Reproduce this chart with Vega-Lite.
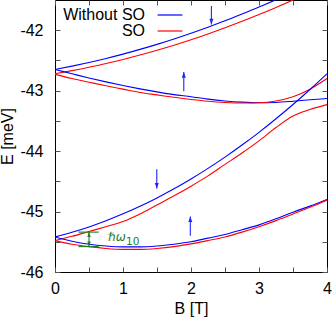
{
  "$schema": "https://vega.github.io/schema/vega-lite/v6.json",
  "width": 272,
  "height": 272,
  "autosize": {"type": "none"},
  "padding": {"left": 55, "top": 0, "right": 5, "bottom": 46},
  "config": {
    "font": "Liberation Sans",
    "view": {"stroke": "#000000", "strokeWidth": 1},
    "axis": {
      "grid": false,
      "domain": false,
      "tickSize": -5,
      "tickColor": "#555555",
      "labelFont": "Liberation Sans",
      "labelFontSize": 16,
      "labelColor": "#000000",
      "titleFont": "Liberation Sans",
      "titleFontSize": 16,
      "titleFontWeight": "normal",
      "titleColor": "#000000",
      "labelFlush": false,
      "labelBound": false,
      "labelOverlap": false
    },
    "legend": {
      "orient": "top-left",
      "offset": 7,
      "padding": 0,
      "symbolType": "M-3.1,0L3.1,0",
      "symbolSize": 64,
      "symbolStrokeWidth": 1.2,
      "labelFont": "Liberation Sans",
      "labelFontSize": 16,
      "labelColor": "#000000",
      "labelAlign": "right",
      "labelOffset": -33,
      "symbolOffset": 100,
      "rowPadding": 0
    }
  },
  "datasets": {
    "curves": [
      {"B": 0, "E": -42.65, "curve": "c1", "set": "Without SO"},
      {"B": 0.25, "E": -42.594, "curve": "c1", "set": "Without SO"},
      {"B": 0.5, "E": -42.533, "curve": "c1", "set": "Without SO"},
      {"B": 0.75, "E": -42.467, "curve": "c1", "set": "Without SO"},
      {"B": 1.0, "E": -42.395, "curve": "c1", "set": "Without SO"},
      {"B": 1.25, "E": -42.317, "curve": "c1", "set": "Without SO"},
      {"B": 1.5, "E": -42.234, "curve": "c1", "set": "Without SO"},
      {"B": 1.75, "E": -42.145, "curve": "c1", "set": "Without SO"},
      {"B": 2.0, "E": -42.05, "curve": "c1", "set": "Without SO"},
      {"B": 2.25, "E": -41.95, "curve": "c1", "set": "Without SO"},
      {"B": 2.5, "E": -41.845, "curve": "c1", "set": "Without SO"},
      {"B": 2.75, "E": -41.733, "curve": "c1", "set": "Without SO"},
      {"B": 3.0, "E": -41.617, "curve": "c1", "set": "Without SO"},
      {"B": 3.25, "E": -41.494, "curve": "c1", "set": "Without SO"},
      {"B": 3.5, "E": -41.366, "curve": "c1", "set": "Without SO"},

      {"B": 0, "E": -42.72, "curve": "c2", "set": "SO"},
      {"B": 0.25, "E": -42.669, "curve": "c2", "set": "SO"},
      {"B": 0.5, "E": -42.613, "curve": "c2", "set": "SO"},
      {"B": 0.75, "E": -42.551, "curve": "c2", "set": "SO"},
      {"B": 1.0, "E": -42.483, "curve": "c2", "set": "SO"},
      {"B": 1.25, "E": -42.41, "curve": "c2", "set": "SO"},
      {"B": 1.5, "E": -42.331, "curve": "c2", "set": "SO"},
      {"B": 1.75, "E": -42.247, "curve": "c2", "set": "SO"},
      {"B": 2.0, "E": -42.157, "curve": "c2", "set": "SO"},
      {"B": 2.25, "E": -42.061, "curve": "c2", "set": "SO"},
      {"B": 2.5, "E": -41.96, "curve": "c2", "set": "SO"},
      {"B": 2.75, "E": -41.853, "curve": "c2", "set": "SO"},
      {"B": 3.0, "E": -41.741, "curve": "c2", "set": "SO"},
      {"B": 3.25, "E": -41.623, "curve": "c2", "set": "SO"},
      {"B": 3.5, "E": -41.499, "curve": "c2", "set": "SO"},
      {"B": 3.75, "E": -41.37, "curve": "c2", "set": "SO"},

      {"B": 0, "E": -42.65, "curve": "c3", "set": "Without SO"},
      {"B": 0.25, "E": -42.72, "curve": "c3", "set": "Without SO"},
      {"B": 0.5, "E": -42.79, "curve": "c3", "set": "Without SO"},
      {"B": 0.75, "E": -42.855, "curve": "c3", "set": "Without SO"},
      {"B": 1.0, "E": -42.915, "curve": "c3", "set": "Without SO"},
      {"B": 1.25, "E": -42.97, "curve": "c3", "set": "Without SO"},
      {"B": 1.5, "E": -43.02, "curve": "c3", "set": "Without SO"},
      {"B": 1.75, "E": -43.065, "curve": "c3", "set": "Without SO"},
      {"B": 2.0, "E": -43.10, "curve": "c3", "set": "Without SO"},
      {"B": 2.25, "E": -43.14, "curve": "c3", "set": "Without SO"},
      {"B": 2.5, "E": -43.17, "curve": "c3", "set": "Without SO"},
      {"B": 2.75, "E": -43.19, "curve": "c3", "set": "Without SO"},
      {"B": 3.0, "E": -43.20, "curve": "c3", "set": "Without SO"},
      {"B": 3.25, "E": -43.195, "curve": "c3", "set": "Without SO"},
      {"B": 3.5, "E": -43.175, "curve": "c3", "set": "Without SO"},
      {"B": 3.75, "E": -43.15, "curve": "c3", "set": "Without SO"},
      {"B": 4.0, "E": -43.13, "curve": "c3", "set": "Without SO"},

      {"B": 0, "E": -42.73, "curve": "c4", "set": "SO"},
      {"B": 0.25, "E": -42.80, "curve": "c4", "set": "SO"},
      {"B": 0.5, "E": -42.86, "curve": "c4", "set": "SO"},
      {"B": 0.75, "E": -42.92, "curve": "c4", "set": "SO"},
      {"B": 1.0, "E": -42.975, "curve": "c4", "set": "SO"},
      {"B": 1.25, "E": -43.03, "curve": "c4", "set": "SO"},
      {"B": 1.5, "E": -43.07, "curve": "c4", "set": "SO"},
      {"B": 1.75, "E": -43.11, "curve": "c4", "set": "SO"},
      {"B": 2.0, "E": -43.145, "curve": "c4", "set": "SO"},
      {"B": 2.25, "E": -43.175, "curve": "c4", "set": "SO"},
      {"B": 2.5, "E": -43.195, "curve": "c4", "set": "SO"},
      {"B": 2.75, "E": -43.205, "curve": "c4", "set": "SO"},
      {"B": 3.0, "E": -43.20, "curve": "c4", "set": "SO"},
      {"B": 3.25, "E": -43.17, "curve": "c4", "set": "SO"},
      {"B": 3.5, "E": -43.10, "curve": "c4", "set": "SO"},
      {"B": 3.75, "E": -42.975, "curve": "c4", "set": "SO"},
      {"B": 4.0, "E": -42.80, "curve": "c4", "set": "SO"},

      {"B": 0, "E": -45.42, "curve": "c5", "set": "Without SO"},
      {"B": 0.25, "E": -45.343, "curve": "c5", "set": "Without SO"},
      {"B": 0.5, "E": -45.254, "curve": "c5", "set": "Without SO"},
      {"B": 0.75, "E": -45.152, "curve": "c5", "set": "Without SO"},
      {"B": 1.0, "E": -45.038, "curve": "c5", "set": "Without SO"},
      {"B": 1.25, "E": -44.912, "curve": "c5", "set": "Without SO"},
      {"B": 1.5, "E": -44.774, "curve": "c5", "set": "Without SO"},
      {"B": 1.75, "E": -44.624, "curve": "c5", "set": "Without SO"},
      {"B": 2.0, "E": -44.461, "curve": "c5", "set": "Without SO"},
      {"B": 2.25, "E": -44.286, "curve": "c5", "set": "Without SO"},
      {"B": 2.5, "E": -44.099, "curve": "c5", "set": "Without SO"},
      {"B": 2.75, "E": -43.90, "curve": "c5", "set": "Without SO"},
      {"B": 3.0, "E": -43.689, "curve": "c5", "set": "Without SO"},
      {"B": 3.25, "E": -43.465, "curve": "c5", "set": "Without SO"},
      {"B": 3.5, "E": -43.229, "curve": "c5", "set": "Without SO"},
      {"B": 3.75, "E": -42.981, "curve": "c5", "set": "Without SO"},
      {"B": 4.0, "E": -42.721, "curve": "c5", "set": "Without SO"},

      {"B": 0, "E": -45.48, "curve": "c6", "set": "SO"},
      {"B": 0.25, "E": -45.41, "curve": "c6", "set": "SO"},
      {"B": 0.5, "E": -45.33, "curve": "c6", "set": "SO"},
      {"B": 0.75, "E": -45.25, "curve": "c6", "set": "SO"},
      {"B": 1.0, "E": -45.165, "curve": "c6", "set": "SO"},
      {"B": 1.25, "E": -45.04, "curve": "c6", "set": "SO"},
      {"B": 1.5, "E": -44.89, "curve": "c6", "set": "SO"},
      {"B": 1.75, "E": -44.74, "curve": "c6", "set": "SO"},
      {"B": 2.0, "E": -44.58, "curve": "c6", "set": "SO"},
      {"B": 2.25, "E": -44.41, "curve": "c6", "set": "SO"},
      {"B": 2.5, "E": -44.22, "curve": "c6", "set": "SO"},
      {"B": 2.75, "E": -44.03, "curve": "c6", "set": "SO"},
      {"B": 3.0, "E": -43.83, "curve": "c6", "set": "SO"},
      {"B": 3.25, "E": -43.61, "curve": "c6", "set": "SO"},
      {"B": 3.5, "E": -43.42, "curve": "c6", "set": "SO"},
      {"B": 3.75, "E": -43.31, "curve": "c6", "set": "SO"},
      {"B": 4.0, "E": -43.23, "curve": "c6", "set": "SO"},

      {"B": 0, "E": -45.42, "curve": "c7", "set": "Without SO"},
      {"B": 0.25, "E": -45.49, "curve": "c7", "set": "Without SO"},
      {"B": 0.5, "E": -45.54, "curve": "c7", "set": "Without SO"},
      {"B": 0.75, "E": -45.57, "curve": "c7", "set": "Without SO"},
      {"B": 1.0, "E": -45.585, "curve": "c7", "set": "Without SO"},
      {"B": 1.25, "E": -45.585, "curve": "c7", "set": "Without SO"},
      {"B": 1.5, "E": -45.57, "curve": "c7", "set": "Without SO"},
      {"B": 1.75, "E": -45.54, "curve": "c7", "set": "Without SO"},
      {"B": 2.0, "E": -45.50, "curve": "c7", "set": "Without SO"},
      {"B": 2.25, "E": -45.44, "curve": "c7", "set": "Without SO"},
      {"B": 2.5, "E": -45.38, "curve": "c7", "set": "Without SO"},
      {"B": 2.75, "E": -45.30, "curve": "c7", "set": "Without SO"},
      {"B": 3.0, "E": -45.22, "curve": "c7", "set": "Without SO"},
      {"B": 3.25, "E": -45.12, "curve": "c7", "set": "Without SO"},
      {"B": 3.5, "E": -45.01, "curve": "c7", "set": "Without SO"},
      {"B": 3.75, "E": -44.91, "curve": "c7", "set": "Without SO"},
      {"B": 4.0, "E": -44.80, "curve": "c7", "set": "Without SO"},

      {"B": 0, "E": -45.48, "curve": "c8", "set": "SO"},
      {"B": 0.25, "E": -45.54, "curve": "c8", "set": "SO"},
      {"B": 0.5, "E": -45.58, "curve": "c8", "set": "SO"},
      {"B": 0.75, "E": -45.61, "curve": "c8", "set": "SO"},
      {"B": 1.0, "E": -45.625, "curve": "c8", "set": "SO"},
      {"B": 1.25, "E": -45.625, "curve": "c8", "set": "SO"},
      {"B": 1.5, "E": -45.61, "curve": "c8", "set": "SO"},
      {"B": 1.75, "E": -45.58, "curve": "c8", "set": "SO"},
      {"B": 2.0, "E": -45.535, "curve": "c8", "set": "SO"},
      {"B": 2.25, "E": -45.48, "curve": "c8", "set": "SO"},
      {"B": 2.5, "E": -45.42, "curve": "c8", "set": "SO"},
      {"B": 2.75, "E": -45.34, "curve": "c8", "set": "SO"},
      {"B": 3.0, "E": -45.25, "curve": "c8", "set": "SO"},
      {"B": 3.25, "E": -45.15, "curve": "c8", "set": "SO"},
      {"B": 3.5, "E": -45.04, "curve": "c8", "set": "SO"},
      {"B": 3.75, "E": -44.93, "curve": "c8", "set": "SO"},
      {"B": 4.0, "E": -44.81, "curve": "c8", "set": "SO"}
    ],
    "arrows": [
      {"B": 2.3, "Etail": -41.6, "Ehead": -41.906, "dir": "down"},
      {"B": 1.894, "Etail": -43.01, "Ehead": -42.69, "dir": "up"},
      {"B": 1.497, "Etail": -44.30, "Ehead": -44.62, "dir": "down"},
      {"B": 1.99, "Etail": -45.40, "Ehead": -45.08, "dir": "up"}
    ],
    "gap": [
      {"B": 0.5, "Blo": 0.345, "Bhi": 0.644, "Etop": -45.34, "Ebot": -45.58, "label": "ℏω", "sub": "10", "Blabel": 0.78, "Elabel": -45.42}
    ],
    "gapheads": [
      {"B": 0.5, "E": -45.34, "dir": "up"},
      {"B": 0.5, "E": -45.58, "dir": "down"}
    ]
  },
  "resolve": {"axis": {"x": "independent", "y": "independent"}},
  "layer": [
    {
      "data": {"name": "curves"},
      "mark": {"type": "line", "strokeWidth": 1.1, "clip": true, "interpolate": "monotone"},
      "encoding": {
        "x": {"field": "B", "type": "quantitative", "scale": {"domain": [0, 4], "nice": false, "zero": false},
          "axis": {"orient": "bottom", "title": "B [T]", "values": [0, 0.5, 1, 1.5, 2, 2.5, 3, 3.5, 4],
            "labelExpr": "datum.value % 1 == 0 ? '' + datum.value : ''", "labelPadding": 13, "titlePadding": 4}},
        "y": {"field": "E", "type": "quantitative", "scale": {"domain": [-46, -41.5], "nice": false, "zero": false},
          "axis": {"orient": "left", "title": "E [meV]", "values": [-46, -45.5, -45, -44.5, -44, -43.5, -43, -42.5, -42],
            "labelExpr": "datum.value % 1 == 0 ? '-' + abs(datum.value) : ''", "labelPadding": 17, "titlePadding": 4}},
        "color": {"field": "set", "type": "nominal",
          "scale": {"domain": ["Without SO", "SO"], "range": ["#0000ff", "#ff0000"]},
          "legend": {"title": null}},
        "detail": {"field": "curve"}
      }
    },
    {
      "data": {"name": "arrows"},
      "mark": {"type": "rule", "color": "#2222ff", "strokeWidth": 1.1},
      "encoding": {
        "x": {"field": "B", "type": "quantitative", "scale": {"domain": [0, 4], "nice": false, "zero": false},
          "axis": {"orient": "top", "title": null, "labels": false, "values": [0, 0.5, 1, 1.5, 2, 2.5, 3, 3.5, 4]}},
        "y": {"field": "Etail", "type": "quantitative", "scale": {"domain": [-46, -41.5], "nice": false, "zero": false},
          "axis": {"orient": "right", "title": null, "labels": false, "values": [-46, -45.5, -45, -44.5, -44, -43.5, -43, -42.5, -42]}},
        "y2": {"field": "Ehead"}
      }
    },
    {
      "data": {"name": "arrows"},
      "mark": {"type": "point", "filled": true, "color": "#2222ff", "opacity": 1, "size": 130, "strokeWidth": 0},
      "encoding": {
        "x": {"field": "B", "type": "quantitative", "scale": {"domain": [0, 4]}, "axis": null},
        "y": {"field": "Ehead", "type": "quantitative", "scale": {"domain": [-46, -41.5]}, "axis": null},
        "shape": {"field": "dir", "type": "nominal",
          "scale": {"domain": ["down", "up"], "range": ["M-0.35,-1L0,0L0.35,-1Z", "M-0.35,1L0,0L0.35,1Z"]},
          "legend": null}
      }
    },
    {
      "data": {"name": "gap"},
      "mark": {"type": "rule", "color": "#1f7f1f", "strokeWidth": 1.1},
      "encoding": {
        "x": {"field": "Blo", "type": "quantitative", "scale": {"domain": [0, 4]}, "axis": null},
        "x2": {"field": "Bhi"},
        "y": {"field": "Etop", "type": "quantitative", "scale": {"domain": [-46, -41.5]}, "axis": null}
      }
    },
    {
      "data": {"name": "gap"},
      "mark": {"type": "rule", "color": "#1f7f1f", "strokeWidth": 1.1},
      "encoding": {
        "x": {"field": "Blo", "type": "quantitative", "scale": {"domain": [0, 4]}, "axis": null},
        "x2": {"field": "Bhi"},
        "y": {"field": "Ebot", "type": "quantitative", "scale": {"domain": [-46, -41.5]}, "axis": null}
      }
    },
    {
      "data": {"name": "gap"},
      "mark": {"type": "rule", "color": "#1f7f1f", "strokeWidth": 1.1},
      "encoding": {
        "x": {"field": "B", "type": "quantitative", "scale": {"domain": [0, 4]}, "axis": null},
        "y": {"field": "Etop", "type": "quantitative", "scale": {"domain": [-46, -41.5]}, "axis": null},
        "y2": {"field": "Ebot"}
      }
    },
    {
      "data": {"name": "gapheads"},
      "mark": {"type": "point", "filled": true, "color": "#1f7f1f", "opacity": 1, "size": 100, "strokeWidth": 0},
      "encoding": {
        "x": {"field": "B", "type": "quantitative", "scale": {"domain": [0, 4]}, "axis": null},
        "y": {"field": "E", "type": "quantitative", "scale": {"domain": [-46, -41.5]}, "axis": null},
        "shape": {"field": "dir", "type": "nominal",
          "scale": {"domain": ["down", "up"], "range": ["M-0.5,-1L0,0L0.5,-1Z", "M-0.5,1L0,0L0.5,1Z"]},
          "legend": null}
      }
    },
    {
      "data": {"name": "gap"},
      "mark": {"type": "text", "color": "#1f7f1f", "font": "DejaVu Sans", "fontStyle": "italic", "fontSize": 12, "align": "left", "baseline": "middle"},
      "encoding": {
        "x": {"field": "Blabel", "type": "quantitative", "scale": {"domain": [0, 4]}, "axis": null},
        "y": {"field": "Elabel", "type": "quantitative", "scale": {"domain": [-46, -41.5]}, "axis": null},
        "text": {"field": "label"}
      }
    },
    {
      "data": {"name": "gap"},
      "mark": {"type": "text", "color": "#1f7f1f", "font": "DejaVu Sans", "fontSize": 10.5, "align": "left", "baseline": "middle", "dx": 18, "dy": 5},
      "encoding": {
        "x": {"field": "Blabel", "type": "quantitative", "scale": {"domain": [0, 4]}, "axis": null},
        "y": {"field": "Elabel", "type": "quantitative", "scale": {"domain": [-46, -41.5]}, "axis": null},
        "text": {"field": "sub"}
      }
    }
  ]
}
